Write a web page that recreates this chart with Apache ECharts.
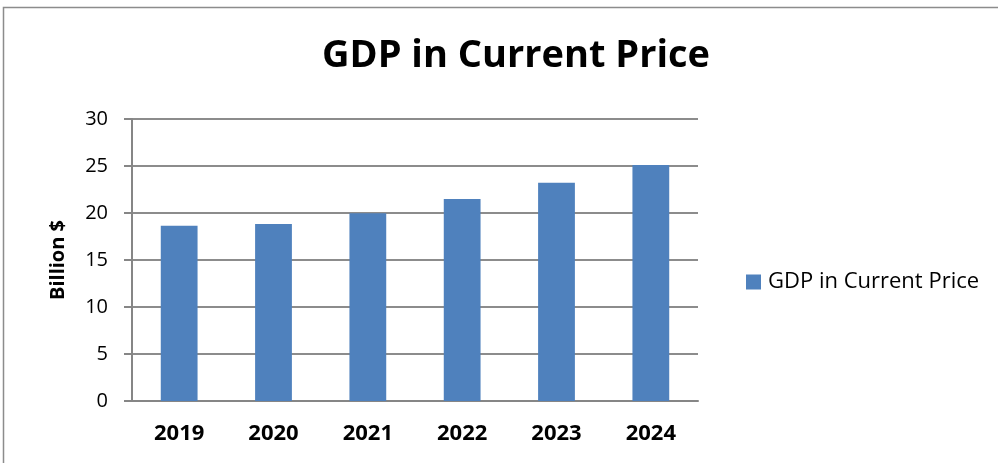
<!DOCTYPE html>
<html><head><meta charset="utf-8">
<script src="https://cdn.jsdelivr.net/npm/echarts@6/dist/echarts.min.js"></script>
<style>html,body{margin:0;padding:0;background:#fff}#c{width:998px;height:463px}</style>
</head><body><div id="c"></div>
<script>
const categories = ['2019','2020','2021','2022','2023','2024'];
const gdpValues = [18.65, 18.83, 19.97, 21.49, 23.23, 25.1];
const seriesName = 'GDP in Current Price';
const yTicks = [0, 5, 10, 15, 20, 25, 30];

const chart = echarts.init(document.getElementById('c'));
const font = '"Open Sans", "Liberation Sans", sans-serif';
chart.setOption({
  animation: false,
  textStyle: {fontFamily: font},
  graphic: [{
    type: 'polyline', silent: true,
    shape: {points: [[3.5, 470], [3.5, 7.5], [1000, 7.5]]},
    style: {stroke: '#8c8c8c', lineWidth: 1.5, fill: null}
  }],
  title: {
    text: 'GDP in Current Price', left: 511, top: 32, textAlign: 'center',
    textStyle: {fontFamily: font, fontWeight: 'bold', fontSize: 38, color: '#000'}
  },
  legend: {
    left: 741, top: 266, itemWidth: 15, itemHeight: 15, itemGap: 6,
    icon: 'rect',
    textStyle: {fontFamily: font, fontSize: 22, color: '#000', padding: [0,0,0,2]},
    data: [seriesName]
  },
  grid: {left: 132, right: 300, top: 119, bottom: 62},
  xAxis: {
    type: 'category', data: categories,
    axisLine: {lineStyle: {color: '#868686', width: 2}},
    axisTick: {show: false},
    axisLabel: {fontFamily: font, fontWeight: 'bold', fontSize: 22, color: '#000', margin: 22}
  },
  yAxis: {
    type: 'value', min: yTicks[0], max: yTicks[yTicks.length-1], interval: 5,
    name: 'Billion $', nameLocation: 'middle', nameGap: 64, nameRotate: 90,
    nameTextStyle: {fontFamily: font, fontWeight: 'bold', fontSize: 20, color: '#000'},
    axisLine: {show: true, lineStyle: {color: '#868686', width: 2}},
    axisTick: {show: true, length: 8, lineStyle: {color: '#868686', width: 2}},
    axisLabel: {fontFamily: font, fontSize: 20, color: '#000', margin: 24},
    splitLine: {lineStyle: {color: '#8c8c8c', width: 2}}
  },
  series: [{
    name: seriesName, type: 'bar', data: gdpValues, barWidth: '39%',
    itemStyle: {color: '#4f81bd'}
  }]
});
</script></body></html>
